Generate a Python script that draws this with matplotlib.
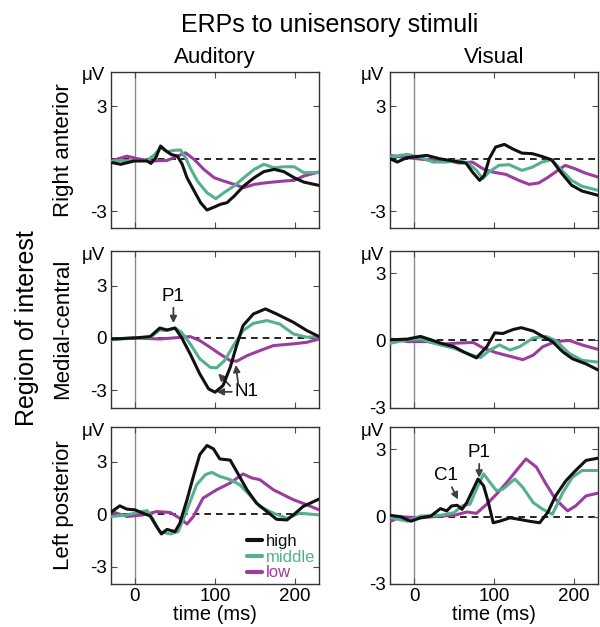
import matplotlib
matplotlib.use("Agg")
import matplotlib.pyplot as plt

plt.rcParams['font.family'] = ['Liberation Sans', 'DejaVu Sans']
plt.rcParams['axes.unicode_minus'] = False

# ---------------- data (time in ms, amplitude in µV) ----------------
conditions = ["high", "middle", "low"]
colors = {"high": "#111111", "middle": "#55b08f", "low": "#9b3d9d"}
row_labels = ["Right anterior", "Medial-central", "Left posterior"]
col_titles = ["Auditory", "Visual"]
xticks = [0, 100, 200]

# Auditory - Right anterior
a1_t_high = [-28, -18, -1, 15, 20, 26, 32, 38, 45, 53, 59, 65, 74, 82, 90, 99, 107, 115, 124, 136, 149, 161, 174, 186, 199, 211, 230]
a1_high = [-0.23, -0.32, -0.13, -0.13, -0.27, 0.06, 0.73, 0.48, 0.25, 0.15, -0.32, -1.09, -1.85, -2.52, -2.94, -2.77, -2.61, -2.52, -2.14, -1.56, -1.09, -0.74, -0.61, -0.74, -1.09, -1.34, -1.53]
a1_t_mid = [-28, -1, 15, 24, 32, 40, 49, 57, 63, 70, 78, 90, 101, 111, 124, 136, 149, 161, 174, 186, 199, 211, 230]
a1_mid = [-0.13, -0.1, -0.1, 0.21, 0.63, 0.4, 0.48, 0.5, 0.06, -0.61, -1.28, -1.95, -2.29, -1.95, -1.56, -1.09, -0.61, -0.32, -0.52, -0.46, -0.46, -0.8, -0.8]
a1_t_low = [-28, -10, 3, 20, 40, 53, 63, 74, 86, 99, 111, 124, 136, 149, 165, 186, 199, 211, 230]
a1_low = [-0.1, 0.15, 0.0, -0.13, -0.1, 0.15, 0.34, -0.04, -0.61, -1.09, -1.28, -1.47, -1.66, -1.47, -1.37, -1.28, -1.24, -0.99, -0.76]

# Visual - Right anterior
v1_t_high = [-30, -21, -9, 16, 32, 49, 65, 73, 82, 88, 94, 102, 113, 123, 135, 148, 160, 172, 185, 197, 210, 230]
v1_high = [0.0, -0.19, 0.06, 0.19, 0.0, -0.13, -0.25, -0.76, -1.24, -0.95, 0.0, 0.67, 0.82, 0.57, 0.32, 0.29, 0.13, -0.06, -0.86, -1.52, -1.85, -2.1]
v1_t_mid = [-30, -9, 7, 24, 40, 57, 69, 78, 86, 94, 106, 119, 135, 148, 160, 172, 185, 197, 210, 230]
v1_mid = [0.1, 0.25, 0.1, -0.19, -0.19, -0.1, -0.29, -0.67, -1.14, -0.76, -0.38, -0.34, -0.67, -0.48, -0.19, -0.06, -0.67, -1.24, -1.58, -1.81]
v1_t_low = [-30, -9, 16, 40, 57, 73, 86, 98, 115, 131, 144, 156, 168, 181, 189, 201, 214, 230]
v1_low = [0.19, 0.06, -0.06, -0.1, -0.25, -0.19, -0.57, -0.76, -0.9, -1.24, -1.47, -1.39, -1.05, -0.63, -0.38, -0.57, -0.82, -1.05]

# Auditory - Medial-central
a2_t_high = [-29, 0, 19, 31, 40, 50, 58, 69, 81, 92, 100, 110, 119, 127, 135, 148, 163, 177, 198, 215, 230]
a2_high = [-0.06, 0.0, 0.08, 0.57, 0.46, 0.57, 0.04, -0.92, -2.07, -2.93, -3.12, -2.74, -1.69, -0.44, 0.71, 1.38, 1.67, 1.38, 0.9, 0.42, 0.08]
a2_t_mid = [-29, 0, 19, 31, 40, 50, 58, 69, 81, 94, 102, 112, 123, 135, 148, 165, 181, 198, 215, 230]
a2_mid = [-0.1, 0.0, 0.04, 0.46, 0.42, 0.57, 0.33, -0.34, -1.2, -1.69, -1.72, -1.3, -0.44, 0.42, 0.84, 1.0, 0.8, 0.23, 0.04, 0.08]
a2_t_low = [-29, 0, 31, 48, 69, 81, 94, 106, 119, 127, 140, 156, 173, 198, 215, 230]
a2_low = [-0.06, 0.0, -0.06, 0.0, 0.08, -0.15, -0.54, -0.92, -1.3, -1.34, -1.02, -0.73, -0.44, -0.34, -0.25, -0.06]

# Visual - Medial-central
v2_t_high = [-29, -8, 8, 21, 33, 50, 62, 78, 91, 101, 111, 124, 134, 149, 161, 173, 186, 198, 215, 230]
v2_high = [0.03, 0.06, 0.18, 0.03, -0.12, -0.28, -0.51, -0.78, -0.28, 0.34, 0.31, 0.49, 0.57, 0.42, 0.18, -0.05, -0.51, -0.82, -1.05, -1.32]
v2_t_mid = [-29, -8, 8, 33, 50, 66, 83, 95, 107, 120, 132, 149, 165, 177, 194, 210, 230]
v2_mid = [-0.12, 0.03, 0.06, -0.2, -0.35, -0.58, -0.77, -0.43, -0.2, -0.43, -0.28, 0.11, 0.18, 0.0, -0.58, -0.89, -0.97]
v2_t_low = [-29, -8, 17, 33, 54, 74, 87, 103, 120, 136, 149, 161, 177, 194, 210, 230]
v2_low = [0.06, -0.05, -0.05, -0.17, -0.12, -0.09, -0.35, -0.55, -0.71, -0.86, -0.66, -0.28, -0.05, 0.0, -0.2, -0.4]

# Auditory - Left posterior
a3_t_high = [-29, -19, -10, 0, 10, 19, 27, 33, 40, 50, 56, 65, 73, 81, 90, 98, 106, 119, 127, 140, 152, 165, 177, 190, 198, 210, 230]
a3_high = [0.15, 0.48, 0.29, 0.25, 0.06, -0.1, -0.71, -1.13, -0.87, -1.0, -0.52, 0.83, 2.17, 3.42, 3.94, 3.75, 3.17, 3.1, 2.46, 1.4, 0.63, 0.15, -0.29, -0.33, -0.04, 0.44, 0.87]
a3_t_mid = [-29, -10, 15, 23, 31, 44, 54, 65, 77, 88, 96, 106, 119, 131, 144, 156, 173, 190, 206, 230]
a3_mid = [-0.13, -0.04, 0.21, -0.33, -1.0, -1.13, -1.0, 0.25, 1.69, 2.27, 2.4, 2.17, 1.98, 1.69, 1.06, 0.44, 0.06, -0.23, 0.06, -0.04]
a3_t_low = [-29, -10, 10, 27, 44, 56, 65, 73, 85, 102, 119, 135, 146, 156, 173, 198, 215, 230]
a3_low = [0.15, -0.13, -0.04, 0.15, 0.1, -0.23, -0.56, -0.13, 0.92, 1.4, 1.79, 2.31, 2.08, 1.98, 1.4, 0.83, 0.54, 0.25]

# Visual - Left posterior
v3_t_high = [-29, -17, -4, 8, 21, 33, 41, 47, 54, 60, 66, 74, 80, 87, 93, 99, 107, 120, 132, 144, 157, 167, 177, 190, 202, 215, 230]
v3_high = [0.06, 0.0, -0.2, -0.05, 0.03, 0.36, 0.26, 0.48, 0.51, 0.33, 0.63, 1.23, 1.68, 1.38, 0.63, -0.27, -0.2, -0.05, -0.12, -0.2, -0.27, 0.18, 0.93, 1.61, 2.06, 2.51, 2.61]
v3_t_mid = [-29, -8, 8, 33, 50, 60, 70, 78, 87, 95, 103, 111, 126, 136, 149, 161, 173, 186, 198, 210, 230]
v3_mid = [-0.05, -0.2, 0.03, 0.06, 0.18, 0.48, 0.56, 1.23, 1.91, 1.53, 1.16, 1.23, 1.68, 1.31, 0.63, 0.33, 0.11, 1.08, 1.76, 2.06, 2.06]
v3_t_low = [-29, -17, 8, 33, 50, 66, 78, 91, 103, 116, 128, 140, 153, 165, 177, 192, 202, 215, 230]
v3_low = [-0.2, 0.0, -0.05, 0.03, 0.06, 0.21, 0.15, 0.56, 1.0, 1.53, 2.06, 2.58, 2.21, 1.46, 0.78, 0.26, 0.48, 0.93, 1.05]

panels = [
    [(a1_t_high, a1_high, a1_t_mid, a1_mid, a1_t_low, a1_low),
     (v1_t_high, v1_high, v1_t_mid, v1_mid, v1_t_low, v1_low)],
    [(a2_t_high, a2_high, a2_t_mid, a2_mid, a2_t_low, a2_low),
     (v2_t_high, v2_high, v2_t_mid, v2_mid, v2_t_low, v2_low)],
    [(a3_t_high, a3_high, a3_t_mid, a3_mid, a3_t_low, a3_low),
     (v3_t_high, v3_high, v3_t_mid, v3_mid, v3_t_low, v3_low)],
]
ylims = [[(-4, 5), (-4, 5)], [(-4, 5), (-3, 4)], [(-4, 5), (-3, 4)]]
yticks = [[-3, 3], [-3, 0, 3], [-3, 0, 3]]

# ---------------- figure ----------------
W, H = 600, 627
fig = plt.figure(figsize=(W / 100, H / 100), dpi=100)

col_x = [111, 390]
col_w = 208
row_y = [(71.5, 228.5), (251, 407.5), (427, 584)]

axes = []
for r in range(3):
    for c in range(2):
        top, bot = row_y[r]
        ax = fig.add_axes([col_x[c] / W, 1 - bot / H, col_w / W, (bot - top) / H])
        axes.append(ax)
        data = panels[r][c]
        ax.axvline(0, color='0.55', lw=1.0, zorder=1)
        ax.axhline(0, color='black', lw=1.2, ls=(0, (4, 3)), zorder=1)
        for k, cond in enumerate(conditions):
            ax.plot(data[2 * k], data[2 * k + 1], color=colors[cond], lw=2.2,
                    label=cond, zorder=3 - k * 0.1 if cond != "high" else 3.5,
                    solid_capstyle='round', solid_joinstyle='round')
        ax.set_xlim(-30, 230)
        ax.set_ylim(*ylims[r][c])
        ax.set_xticks(xticks)
        ax.set_yticks(yticks[r])
        ax.tick_params(direction='in', top=True, right=True, length=4,
                       width=0.8, labelsize=13.5, pad=3, color='0.3')
        for s in ax.spines.values():
            s.set_linewidth(1.0)
            s.set_color('0.2')
        if r < 2:
            ax.set_xticklabels([])
        else:
            ax.set_xlabel("time (ms)", fontsize=14.5, labelpad=0)
        ax.annotate("μV", xy=(0, 1), xycoords='axes fraction', xytext=(-4, -3),
                    textcoords='offset points', ha='right', va='center', fontsize=13.5)

# titles
fig.text(329.5 / W, 1 - 32.3 / H, "ERPs to unisensory stimuli", ha='center',
         va='baseline', fontsize=18)
fig.text(215 / W, 1 - 63 / H, col_titles[0], ha='center', va='baseline', fontsize=16)
fig.text(494 / W, 1 - 63 / H, col_titles[1], ha='center', va='baseline', fontsize=16)
for r in range(3):
    top, bot = row_y[r]
    fig.text(63 / W, 1 - (top + bot) / 2 / H, row_labels[r], rotation=90,
             ha='center', va='center', fontsize=16)
fig.text(27 / W, 1 - 328 / H, "Region of interest", rotation=90, ha='center',
         va='center', fontsize=18)

# annotations
arrow = dict(arrowstyle='-|>', color='0.25', lw=1.3, mutation_scale=10,
             shrinkA=0, shrinkB=0)
ax_a2 = axes[2]
ax_a2.annotate("P1", xy=(48, 0.85), xytext=(48, 1.9), arrowprops=arrow,
               ha='center', va='bottom', fontsize=13.5)
ax_a2.text(124, -3.1, "N1", ha='left', va='center', fontsize=13.5)
ax_a2.annotate("", xy=(102, -3.1), xytext=(121, -3.1), arrowprops=arrow)
ax_a2.annotate("", xy=(104, -2.05), xytext=(119, -2.76), arrowprops=arrow)
ax_a2.annotate("", xy=(126, -1.55), xytext=(129, -2.66), arrowprops=arrow)

ax_v3 = axes[5]
ax_v3.annotate("C1", xy=(55, 0.77), xytext=(55, 1.44), arrowprops=arrow,
               ha='right', va='bottom', fontsize=13.5)
ax_v3.annotate("P1", xy=(81.5, 1.74), xytext=(81.5, 2.48), arrowprops=arrow,
               ha='center', va='bottom', fontsize=13.5)

# legend
ax_a3 = axes[4]
leg = ax_a3.legend(loc='upper left', bbox_to_anchor=(0.655, 0.32), frameon=False,
                   handlelength=0.9, handletextpad=0.2, labelspacing=0.05,
                   borderpad=0, borderaxespad=0, fontsize=12)
for txt, cond in zip(leg.get_texts(), conditions):
    txt.set_color(colors[cond])
for line in leg.get_lines():
    line.set_linewidth(3)

fig.savefig("out.png", dpi=100)
